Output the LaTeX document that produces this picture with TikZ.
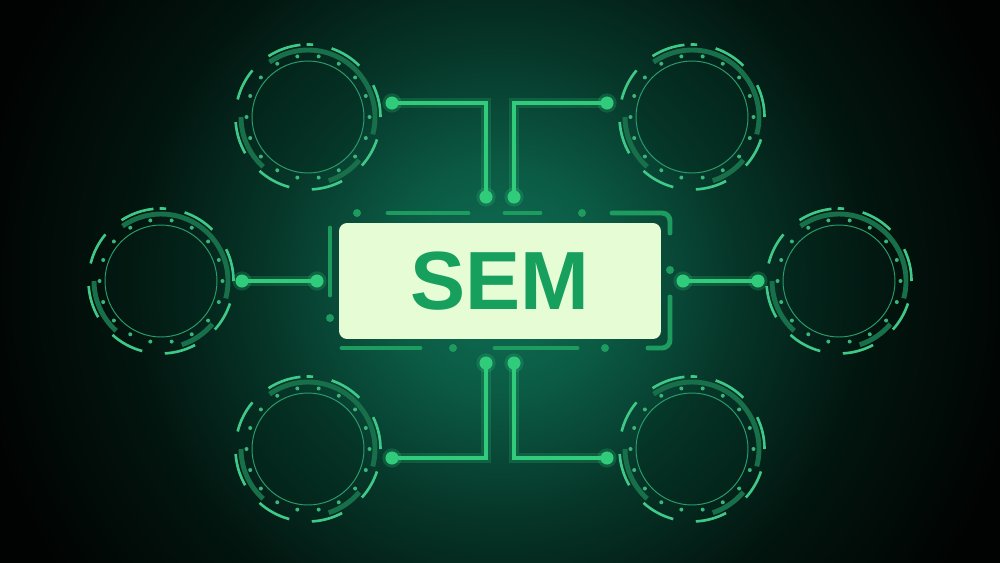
\documentclass[tikz,border=0pt]{standalone}
\usepackage{fontspec}
\setmainfont{Liberation Sans}
\definecolor{bg}{HTML}{010302}
\definecolor{g0}{HTML}{107055}
\definecolor{g1}{HTML}{0B5A44}
\definecolor{g2}{HTML}{063528}
\definecolor{g3}{HTML}{02150F}
\definecolor{conncol}{HTML}{30CC7B}
\definecolor{framecol}{HTML}{1E9C60}
\definecolor{boxfill}{HTML}{E5FCD5}
\definecolor{semgreen}{HTML}{17A05D}
\definecolor{ringthincol}{HTML}{2A9D6C}
\definecolor{ringdotcol}{HTML}{3AB57C}
\definecolor{ringdarkcol}{HTML}{17704A}
\definecolor{ringbrightcol}{HTML}{3FC888}
\definecolor{ringincol}{HTML}{03261A}
\pgfdeclareradialshading{glowshade}{\pgfpointorigin}{color(0bp)=(g0); color(65bp)=(g1); color(135bp)=(g2); color(210bp)=(g3); color(300bp)=(bg)}
\tikzset{
  ringnode/.style={circle, minimum size=2.24cm, inner sep=0pt, draw=ringthincol, line width=0.55pt, fill=ringincol, fill opacity=0.25, draw opacity=1},
  ringdark/.style={draw=ringdarkcol, line width=2.8pt},
  ringbright/.style={draw=ringbrightcol, line width=1.5pt},
  ringdeco/.pic={
    \begin{scope}[yscale=-1]
      \foreach \a in {0,20,...,340} \fill[ringdotcol] (\a:61.5) circle (2);
      \foreach \s/\e in {-15/125,-72/-40,180/228}
        \draw[ringdark] (\s:67) arc[start angle=\s, end angle=\e, radius=67];
      \foreach \s/\e in {96/123,86/91,45/71,0/26,-42/-18,-87/-62,-132/-105,184/210,140/166}
        \draw[ringbright] (\s:72.5) arc[start angle=\s, end angle=\e, radius=72.5];
    \end{scope}
  },
  dotn/.style={circle, fill=conncol, minimum size=0.26cm, inner sep=0pt,
    preaction={fill=conncol, fill opacity=0.22, draw=conncol, draw opacity=0.22, line width=3.5pt}},
  conn/.style={draw=conncol, line width=2pt,
    preaction={draw=conncol, line width=6pt, draw opacity=0.2}},
  frame/.style={draw=framecol, line width=2.8pt, line cap=round},
  framedot/.style={fill=framecol},
  box/.style={rounded corners=0.16cm, fill=boxfill, minimum width=6.44cm, minimum height=2.32cm, inner sep=0pt,
    text=semgreen, font=\bfseries\fontsize{47}{50}\selectfont}
}
\begin{document}
\begin{tikzpicture}[x=0.02cm, y=-0.02cm]
\useasboundingbox (0,0) rectangle (1000,562);
\fill[bg] (-20,-20) rectangle (1020,582);
\begin{scope}
  \clip (-20,-20) rectangle (1020,582);
  \node[inner sep=0pt, outer sep=0pt] (glow) at (500,281) {\pgfuseshading{glowshade}};
\end{scope}

% circles
\node[ringnode] (tl) at (308,117) {};
\node[ringnode] (tr) at (692,117) {};
\node[ringnode] (ml) at (161,281) {};
\node[ringnode] (mr) at (839,281) {};
\node[ringnode] (bl) at (308,449) {};
\node[ringnode] (br) at (692,449) {};
\foreach \n in {tl,tr,ml,mr,bl,br} \pic at (\n) {ringdeco};

% central box frame
\draw[frame] (388,213) -- (468,213);
\draw[frame] (505,213) -- (540,213);
\draw[frame, rounded corners=0.16cm] (612,213) -| (670,233);
\draw[frame, rounded corners=0.16cm] (670,297) |- (648,348);
\draw[frame] (342,348) -- (420,348);
\draw[frame] (495,348) -- (577,348);
\draw[frame] (330,228) -- (330,295);
\foreach \p in {(357,213),(582,213),(670,270),(330,318),(453,348),(605,348)}
  \fill[framedot] \p circle (4);

\node[box] (sem) at (500,281) {SEM};

% connector end dots
\node[dotn] (tla) at (392,103) {};
\node[dotn] (tlb) at (486,197) {};
\node[dotn] (tra) at (607,103) {};
\node[dotn] (trb) at (514,197) {};
\node[dotn] (mla) at (242,281) {};
\node[dotn] (mlb) at (317,281) {};
\node[dotn] (mra) at (758,281) {};
\node[dotn] (mrb) at (683,281) {};
\node[dotn] (bla) at (392,458) {};
\node[dotn] (blb) at (486,363) {};
\node[dotn] (bra) at (607,458) {};
\node[dotn] (brb) at (514,363) {};

\draw[conn] (tla.center) -| (tlb.center);
\draw[conn] (tra.center) -| (trb.center);
\draw[conn] (mla.center) -- (mlb.center);
\draw[conn] (mra.center) -- (mrb.center);
\draw[conn] (blb.center) |- (bla.center);
\draw[conn] (brb.center) |- (bra.center);
\end{tikzpicture}
\end{document}
